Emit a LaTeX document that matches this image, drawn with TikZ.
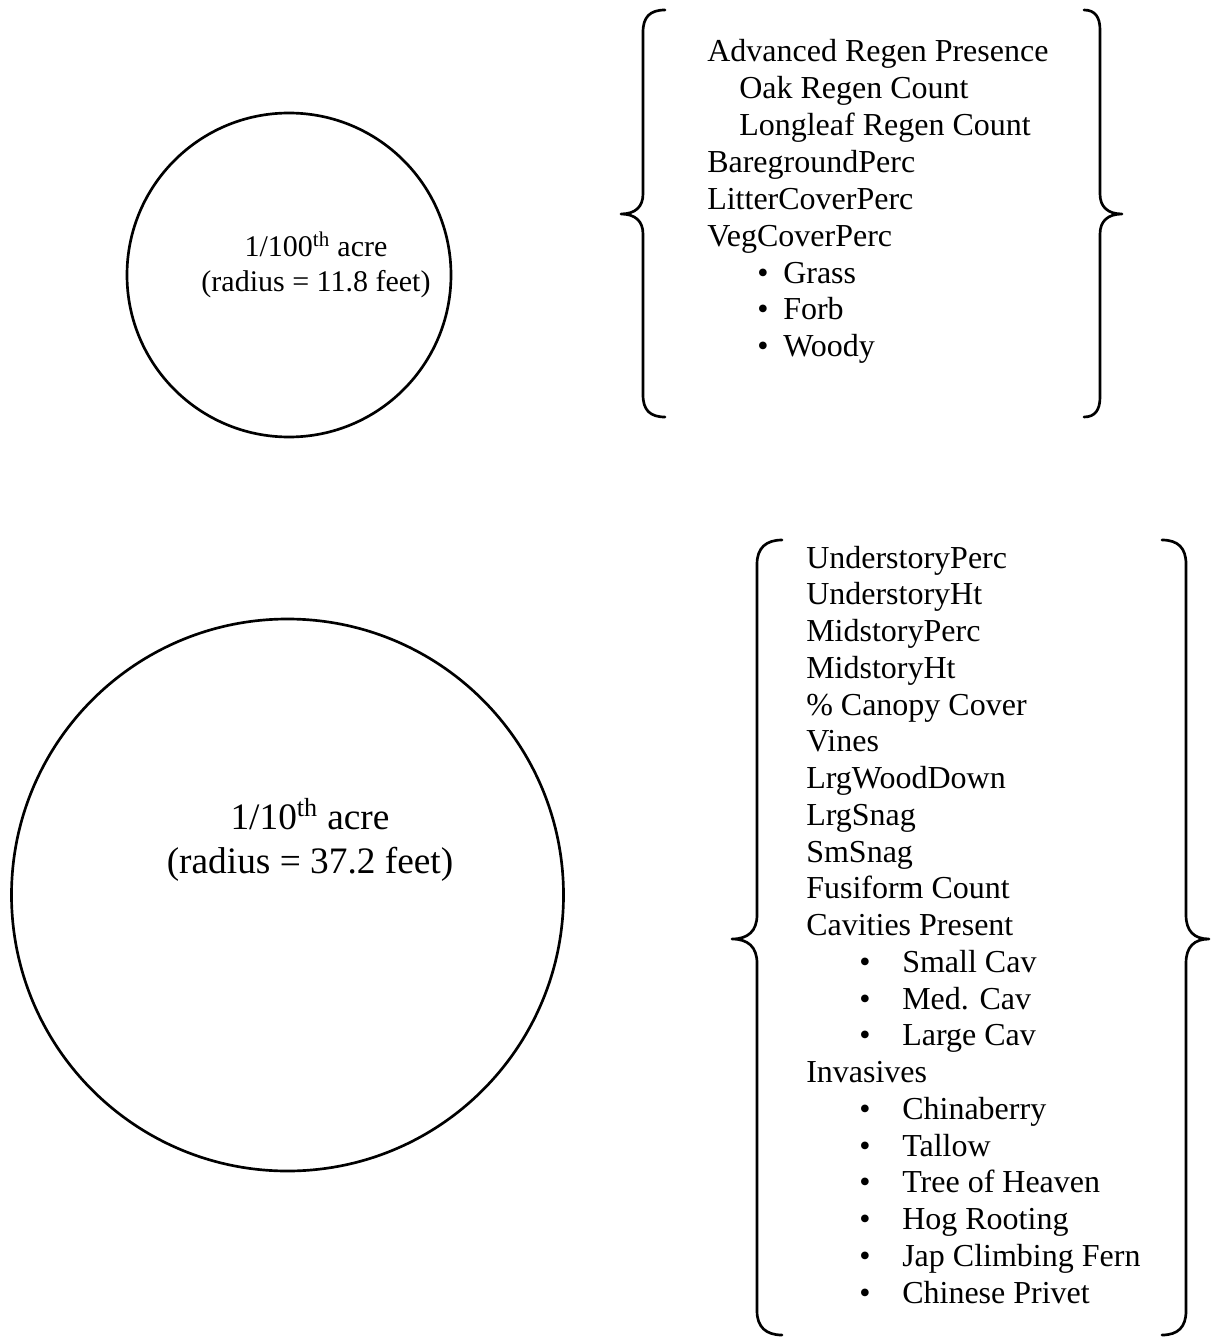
\documentclass[tikz,border=0pt]{standalone}
\usepackage{fontspec}
\setmainfont{Liberation Serif}
\begin{document}
\begin{tikzpicture}[x=0.75pt,y=-0.75pt,
  ln/.style={line width=2pt, line cap=round, line join=round},
  plot/.style={circle, draw, line width=2pt, inner sep=0pt},
  item/.style={anchor=base west, inner sep=0pt, font=\fontsize{24}{28}\selectfont},
  lbl/.style={anchor=base, inner sep=0pt}]
\useasboundingbox (0,0) rectangle (1211,1337);
% circles
\node[plot, minimum size=243pt] (small) at (289,275) {};
\node[plot, minimum size=414pt] (big) at (287.5,895) {};
\node[lbl, font=\fontsize{22.5}{27}\selectfont] (s1) at (316,257) {1/100\textsuperscript{th} acre};
\node[lbl, font=\fontsize{22.5}{27}\selectfont] (s2) at (316,292) {(radius = 11.8 feet)};
\node[lbl, font=\fontsize{28}{33}\selectfont] (b1) at (310,829) {1/10\textsuperscript{th} acre};
\node[lbl, font=\fontsize{28}{33}\selectfont] (b2) at (310,873) {(radius = 37.2 feet)};
% top braces
\draw[ln] (665,10) .. controls (650,10) and (643,17) .. (643,32) -- (643,194)
  .. controls (643,207) and (635,214) .. (621,214)
  .. controls (635,214) and (643,221) .. (643,234) -- (643,395)
  .. controls (643,410) and (650,417) .. (665,417);
\draw[ln] (1084,10) .. controls (1095,10) and (1100,17) .. (1100,30) -- (1100,194)
  .. controls (1100,207) and (1108,214) .. (1122,214)
  .. controls (1108,214) and (1100,221) .. (1100,234) -- (1100,397)
  .. controls (1100,410) and (1095,417) .. (1084,417);
% bottom braces
\draw[ln] (782,540) .. controls (766,540) and (757,548) .. (757,564) -- (757,915)
  .. controls (757,931) and (748,939) .. (732,939)
  .. controls (748,939) and (757,947) .. (757,963) -- (757,1311)
  .. controls (757,1327) and (766,1335) .. (782,1335);
\draw[ln] (1162,540) .. controls (1178,540) and (1186,548) .. (1186,564) -- (1186,915)
  .. controls (1186,931) and (1194,939) .. (1209,939)
  .. controls (1194,939) and (1186,947) .. (1186,963) -- (1186,1311)
  .. controls (1186,1327) and (1178,1335) .. (1162,1335);
% top list
\node[item] (t1) at (707,61.7) {Advanced Regen Presence};
\node[item] (t2) at (739,98.6) {Oak Regen Count};
\node[item] (t3) at (739,135.5) {Longleaf Regen Count};
\node[item] (t4) at (707,172.4) {BaregroundPerc};
\node[item] (t5) at (707,209.3) {LitterCoverPerc};
\node[item] (t6) at (707,246.2) {VegCoverPerc};
\node[item] (t7b) at (757,283.1) {\textbullet};
\node[item] (t7) at (783,283.1) {Grass};
\node[item] (t8b) at (757,320) {\textbullet};
\node[item] (t8) at (783,320) {Forb};
\node[item] (t9b) at (757,356.9) {\textbullet};
\node[item] (t9) at (783,356.9) {Woody};
% bottom list
\node[item] (u1) at (806,568) {UnderstoryPerc};
\node[item] (u2) at (806,604.75) {UnderstoryHt};
\node[item] (u3) at (806,641.5) {MidstoryPerc};
\node[item] (u4) at (806,678.25) {MidstoryHt};
\node[item] (u5) at (806,715) {\% Canopy Cover};
\node[item] (u6) at (806,751.75) {Vines};
\node[item] (u7) at (806,788.5) {LrgWoodDown};
\node[item] (u8) at (806,825.25) {LrgSnag};
\node[item] (u9) at (806,862) {SmSnag};
\node[item] (u10) at (806,898.75) {Fusiform Count};
\node[item] (u11) at (806,935.5) {Cavities Present};
\node[item] (u12b) at (859,972.25) {\textbullet};
\node[item] (u12) at (902,972.25) {Small Cav};
\node[item] (u13b) at (859,1009) {\textbullet};
\node[item] (u13) at (902,1009) {Med. Cav};
\node[item] (u14b) at (859,1045.75) {\textbullet};
\node[item] (u14) at (902,1045.75) {Large Cav};
\node[item] (u15) at (806,1082.5) {Invasives};
\node[item] (u16b) at (859,1119.25) {\textbullet};
\node[item] (u16) at (902,1119.25) {Chinaberry};
\node[item] (u17b) at (859,1156) {\textbullet};
\node[item] (u17) at (902,1156) {Tallow};
\node[item] (u18b) at (859,1192.75) {\textbullet};
\node[item] (u18) at (902,1192.75) {Tree of Heaven};
\node[item] (u19b) at (859,1229.5) {\textbullet};
\node[item] (u19) at (902,1229.5) {Hog Rooting};
\node[item] (u20b) at (859,1266.25) {\textbullet};
\node[item] (u20) at (902,1266.25) {Jap Climbing Fern};
\node[item] (u21b) at (859,1303) {\textbullet};
\node[item] (u21) at (902,1303) {Chinese Privet};
\end{tikzpicture}
\end{document}
